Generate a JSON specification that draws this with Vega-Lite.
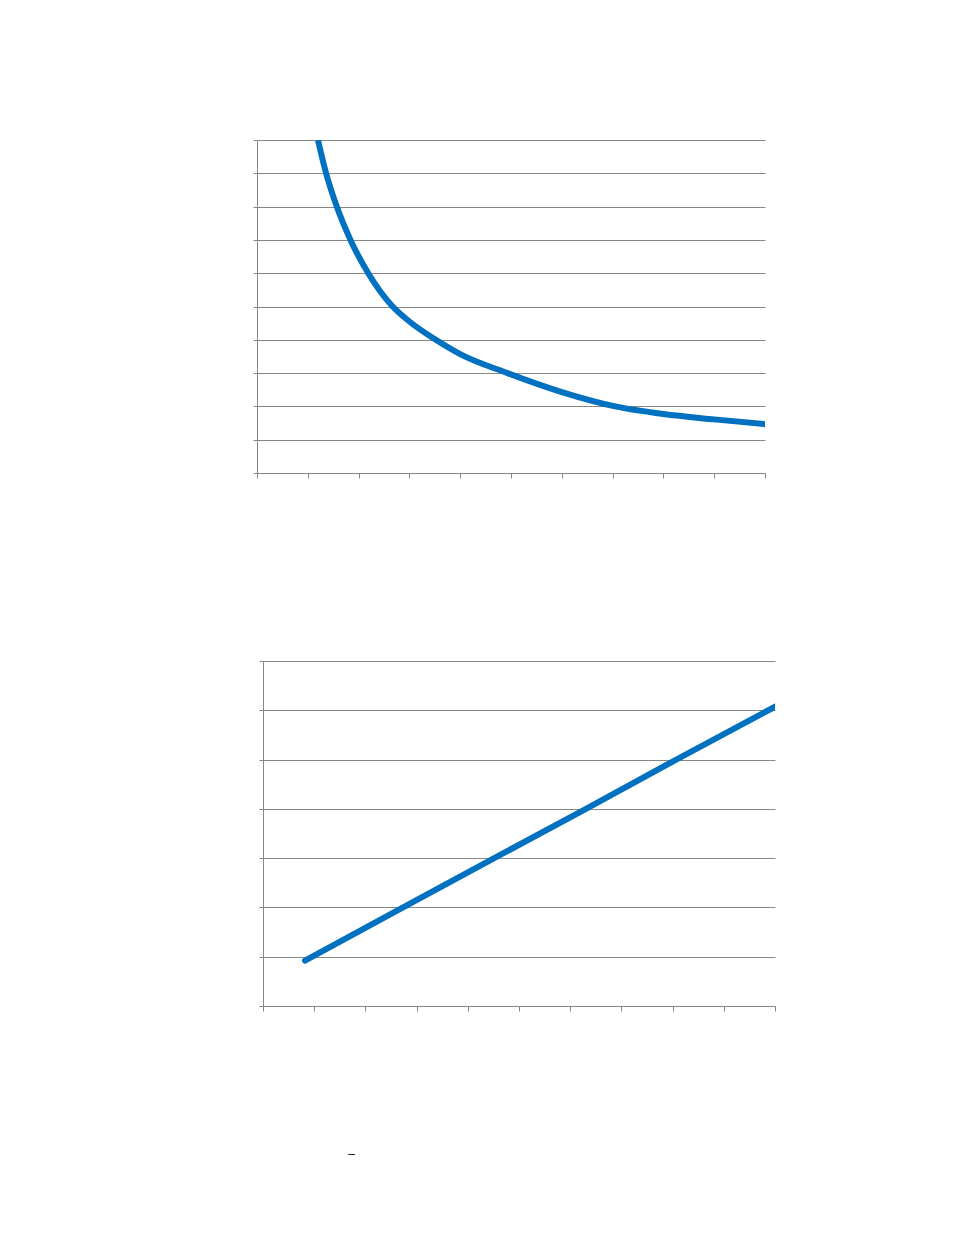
{
  "$schema": "https://vega.github.io/schema/vega-lite/v6.json",
  "padding": {"left": 252, "top": 139, "right": 10, "bottom": 10},
  "background": "white",
  "spacing": 181,
  "config": {
    "view": {"stroke": null},
    "axis": {
      "labels": false,
      "title": null,
      "domainColor": "#868686",
      "tickColor": "#868686",
      "gridColor": "#868686",
      "gridOpacity": 1,
      "domainWidth": 1,
      "tickWidth": 1,
      "gridWidth": 1
    }
  },
  "datasets": {
    "curve": [
      {"x": 1.2, "y": 10},
      {"x": 1.36, "y": 9},
      {"x": 1.57, "y": 8},
      {"x": 1.84, "y": 7},
      {"x": 2.19, "y": 6},
      {"x": 2.67, "y": 5},
      {"x": 3.0, "y": 4.55},
      {"x": 3.52, "y": 4},
      {"x": 4.0, "y": 3.57},
      {"x": 4.93, "y": 3},
      {"x": 6.0, "y": 2.43},
      {"x": 7.05, "y": 2},
      {"x": 8.0, "y": 1.77},
      {"x": 9.0, "y": 1.61},
      {"x": 10.05, "y": 1.46}
    ],
    "straight": [
      {"x": 0.82, "y": 0.92},
      {"x": 2.7, "y": 1.98},
      {"x": 4.48, "y": 2.98},
      {"x": 6.29, "y": 3.99},
      {"x": 8.0, "y": 4.96},
      {"x": 10.05, "y": 6.1}
    ]
  },
  "vconcat": [
    {
      "width": 508,
      "height": 333,
      "data": {"name": "curve"},
      "mark": {"type": "line", "color": "#0070C0", "strokeWidth": 6, "interpolate": "monotone", "clip": true, "strokeCap": "butt"},
      "encoding": {
        "x": {
          "field": "x", "type": "quantitative",
          "scale": {"domain": [0, 10], "nice": false},
          "axis": {"grid": false, "tickSize": 5, "values": [0, 1, 2, 3, 4, 5, 6, 7, 8, 9, 10]}
        },
        "y": {
          "field": "y", "type": "quantitative",
          "scale": {"domain": [0, 10], "nice": false},
          "axis": {"grid": true, "tickSize": 4, "values": [0, 1, 2, 3, 4, 5, 6, 7, 8, 9, 10]}
        }
      }
    },
    {
      "width": 518,
      "height": 345,
      "data": {"name": "straight"},
      "mark": {"type": "line", "color": "#0070C0", "strokeWidth": 6, "clip": true, "strokeCap": "round"},
      "encoding": {
        "x": {
          "field": "x", "type": "quantitative",
          "scale": {"domain": [0, 10], "nice": false, "range": [6, 518]},
          "axis": {
            "title": "–", "titleX": 94, "titleY": 147, "titleAlign": "center", "titleBaseline": "middle",
            "titleFont": "Liberation Sans", "titleFontSize": 12, "titleFontWeight": "normal", "titleColor": "#000000",
            "grid": false, "tickSize": 5, "values": [0, 1, 2, 3, 4, 5, 6, 7, 8, 9, 10]
          }
        },
        "y": {
          "field": "y", "type": "quantitative",
          "scale": {"domain": [0, 7], "nice": false},
          "axis": {"offset": -6, "grid": true, "tickSize": 4, "values": [0, 1, 2, 3, 4, 5, 6, 7]}
        }
      }
    }
  ]
}
